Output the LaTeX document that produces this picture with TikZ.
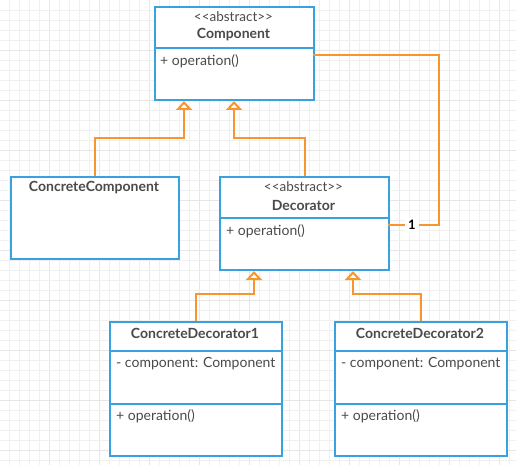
\documentclass[tikz,border=0pt]{standalone}
\usepackage{fontspec}
\setmainfont{Lato}
\usetikzlibrary{arrows.meta}
\definecolor{umlblue}{HTML}{3AA1E0}
\definecolor{umlorange}{HTML}{F7962F}
\definecolor{umltext}{HTML}{4A4A4A}
\definecolor{gridminor}{HTML}{F0F0F0}
\definecolor{gridmajor}{HTML}{E6E6E6}
\tikzset{
  classbox/.style={draw=umlblue, line width=2pt, fill=white, anchor=north west, inner sep=0pt},
  divider/.style={draw=umlblue, line width=2pt},
  title/.style={font=\fontsize{14}{16}\selectfont\bfseries, text=umltext, inner sep=0pt},
  stereo/.style={font=\fontsize{13.5}{16}\selectfont, text=umltext, inner sep=0pt},
  member/.style={font=\fontsize{14}{16}\selectfont, text=umltext, anchor=west, inner sep=0pt},
  gen/.style={draw=umlorange, line width=2pt, -{Triangle[open, length=9pt, width=16pt, fill=white]}},
  assoc/.style={draw=umlorange, line width=2pt},
  multlabel/.style={font=\fontsize{13}{15}\selectfont\bfseries, fill=white, inner sep=3pt, text=black}
}
\begin{document}
\begin{tikzpicture}[x=1pt,y=-1pt]
\useasboundingbox (0,0) rectangle (516,465);
% grid
\foreach \i in {0,...,51} {
  \pgfmathtruncatemacro{\m}{mod(\i+1,5)}
  \ifnum\m=0 \def\gc{gridmajor}\else\def\gc{gridminor}\fi
  \draw[\gc, line width=0.8pt] (9.5+10*\i,0) -- (9.5+10*\i,465);
}
\foreach \j in {1,...,46} {
  \pgfmathtruncatemacro{\m}{mod(\j,5)}
  \ifnum\m=0 \def\gc{gridmajor}\else\def\gc{gridminor}\fi
  \draw[\gc, line width=0.8pt] (0,10*\j) -- (516,10*\j);
}

% Component
\node[classbox, minimum width=159pt, minimum height=93pt] (comp) at (154,6) {};
\draw[divider] (154,48) -- (313,48);
\node[stereo] (compst) at (233.5,17) {{<}{<}abstract{>}{>}};
\node[title] (compt) at (233.5,35) {Component};
\node[member] (compop) at (160,61) {+ operation()};

% ConcreteComponent
\node[classbox, minimum width=168pt, minimum height=82pt] (cc) at (10,176) {};
\node[title] (cct) at (94,188) {ConcreteComponent};

% Decorator
\node[classbox, minimum width=169pt, minimum height=93pt] (dec) at (219,176) {};
\draw[divider] (219,218) -- (388,218);
\node[stereo] (decst) at (303.5,187) {{<}{<}abstract{>}{>}};
\node[title] (dect) at (303.5,205) {Decorator};
\node[member] (decop) at (226,231) {+ operation()};

% ConcreteDecorator1
\node[classbox, minimum width=172pt, minimum height=134pt] (cd1) at (109,321) {};
\draw[divider] (109,351) -- (281,351);
\draw[divider] (109,404) -- (281,404);
\node[title] (cd1t) at (195,333) {ConcreteDecorator1};
\node[member] (cd1a) at (116,364) {- component: Component};
\node[member] (cd1o) at (116,416) {+ operation()};

% ConcreteDecorator2
\node[classbox, minimum width=172pt, minimum height=134pt] (cd2) at (334,321) {};
\draw[divider] (334,351) -- (506,351);
\draw[divider] (334,404) -- (506,404);
\node[title] (cd2t) at (420,333) {ConcreteDecorator2};
\node[member] (cd2a) at (341,364) {- component: Component};
\node[member] (cd2o) at (341,416) {+ operation()};

% generalisations
\coordinate (b1) at (184,138);
\coordinate (b2) at (234,138);
\coordinate (b3) at (254,294);
\coordinate (b4) at (353,294);
\draw[gen] (cc.north) |- (b1) -- (b1 |- comp.south);
\draw[gen] (dec.north) |- (b2) -- (b2 |- comp.south);
\draw[gen] (cd1.north) |- (b3) -- (b3 |- dec.south);
\draw[gen] (cd2.north) |- (b4) -- (b4 |- dec.south);

% association
\coordinate (a1) at (313,55);
\coordinate (a2) at (439,225);
\coordinate (a3) at (388,225);
\draw[assoc] (a1) -| (a2) -- (a3);
\node[multlabel] (mult) at (412,225) {1};
\end{tikzpicture}
\end{document}
